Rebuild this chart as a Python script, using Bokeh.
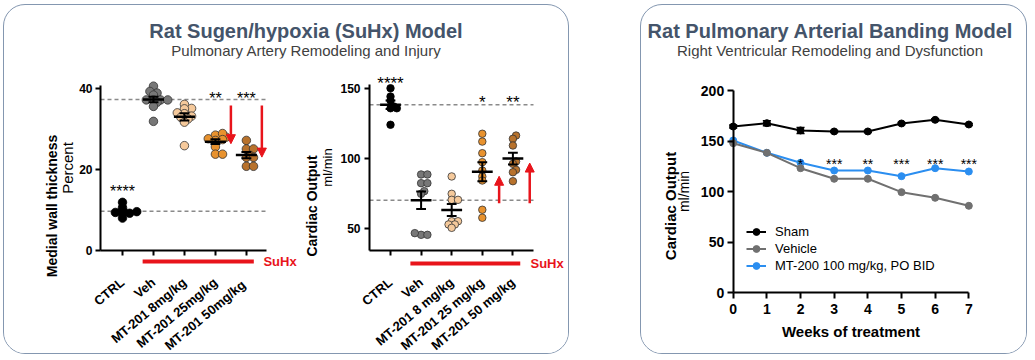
import math
import numpy as np
from bokeh.plotting import figure
from bokeh.models import (Range1d, FixedTicker, Label, LinearAxis, Arrow, NormalHead,
                          Div, Spacer, Legend, LegendItem)
from bokeh.layouts import row, column
from bokeh.core.properties import value
from bokeh.embed import file_html
from bokeh.resources import INLINE

# ---------------- data ----------------
# Rat SuHx: medial wall thickness (percent)
mwt_groups = ["CTRL", "Veh", "MT-201 8mg/kg", "MT-201 25mg/kg", "MT-201  50mg/kg"]
mwt_ctrl = [11.9, 10.6, 9.2, 9.6, 9.4, 9.1, 8.0]
mwt_veh = [40.6, 38.9, 39.3, 38.4, 37.2, 37.2, 37.2, 37.2, 36.6, 35.6, 31.9]
mwt_8 = [36.1, 35.1, 35.0, 33.8, 34.0, 33.2, 32.9, 32.5, 31.7, 25.9]
mwt_25 = [28.0, 28.0, 28.5, 28.9, 27.2, 27.6, 27.4, 25.6, 23.8, 23.8]
mwt_50 = [27.2, 25.1, 25.1, 23.5, 23.0, 23.0, 20.8, 20.8]
mwt_stars = ["****", "", "", "**", "***"]

# Rat SuHx: cardiac output (ml/min)
co_groups = ["CTRL", "Veh", "MT-201 8 mg/kg", "MT-201 25 mg/kg", "MT-201 50 mg/kg"]
co_ctrl = [150.4, 144.5, 141.6, 137.4, 136.1, 136.1, 124.3]
co_veh = [88.8, 88.8, 82.6, 82.6, 76.9, 75.0, 45.7, 46.9, 45.7]
co_8 = [87.4, 75.0, 70.7, 70.7, 55.4, 55.4, 53.1, 53.1, 50.7]
co_25 = [117.9, 112.3, 104.0, 97.6, 91.6, 87.3, 84.5, 63.6, 57.9]
co_50 = [116.6, 114.3, 109.5, 98.1, 96.4, 92.1, 90.4, 84.0]
co_stars = ["****", "", "", "*", "**"]

# Rat PAB: cardiac output over weeks of treatment
weeks = [0, 1, 2, 3, 4, 5, 6, 7]
pab_sham = [164.4, 167.7, 160.5, 159.5, 159.5, 167.4, 171.0, 166.4]
pab_sham_sem = [1.5, 2.5, 3.0, 1.0, 1.0, 1.0, 1.0, 1.0]
pab_vehicle = [147.9, 138.4, 123.2, 112.7, 112.7, 99.5, 93.9, 86.0]
pab_mt200 = [150.6, 138.4, 128.5, 120.9, 120.9, 115.3, 123.2, 119.9]
pab_stars = ["", "", "*", "***", "**", "***", "***", "***"]
pab_labels = ["Sham", "Vehicle", "MT-200 100 mg/kg, PO BID"]

# ---------------- style ----------------
FONT = "Liberation Sans"
RED = "#e8141b"
OUTLINE = "#333333"
SWARM_COLORS = ["#000000", "#777777", "#f5c99b", "#e8922e", "#b8722c"]
PAB_COLORS = ["#000000", "#707070", "#2b8ef0"]
PANEL_STYLE = {"border": "1px solid #8497b0", "border-radius": "22px",
               "overflow": "hidden", "background-color": "white"}


def swarm_offsets(vals, diam, ppu_y, ppu_x):
    placed = []
    offs = [0.0] * len(vals)
    order = sorted(range(len(vals)), key=lambda i: vals[i])
    step = diam * 0.42
    for i in order:
        y = vals[i] * ppu_y
        k = 0
        chosen = None
        while chosen is None:
            cands = [0.0] if k == 0 else [k * step, -k * step]
            for c in cands:
                if all((c - px) ** 2 + (y - py) ** 2 >= (diam * 0.48) ** 2 for px, py in placed):
                    chosen = c
                    break
            k += 1
        placed.append((chosen, y))
        offs[i] = chosen / ppu_x
    return offs


def style_axes(p, tick_size, tick_out):
    for ax in p.axis:
        ax.axis_line_width = 2
        ax.axis_line_color = "black"
        ax.major_tick_line_width = 2
        ax.major_tick_line_color = "black"
        ax.major_tick_in = 0
        ax.major_tick_out = tick_out
        ax.minor_tick_line_color = None
        ax.major_label_text_font = FONT
        ax.major_label_text_font_style = "bold"
        ax.major_label_text_font_size = tick_size
        ax.major_label_text_color = "black"
        ax.axis_label_text_font = FONT
        ax.axis_label_text_color = "black"
    p.xgrid.visible = False
    p.ygrid.visible = False


def add_title_axis(p, loc, text, size, standoff):
    ax = LinearAxis(fixed_location=loc, ticker=FixedTicker(ticks=[]), axis_line_color=None,
                    major_tick_line_color=None, minor_tick_line_color=None,
                    major_tick_out=0, major_tick_in=0, minor_tick_out=0, minor_tick_in=0,
                    major_label_standoff=0, axis_label=text, axis_label_standoff=standoff,
                    axis_label_text_font=FONT, axis_label_text_font_style="bold",
                    axis_label_text_font_size=size, axis_label_text_color="black")
    p.add_layout(ax, "left")


def make_fig(g):
    # g: page geometry -> ranges so that the whole canvas is the plotting frame
    x0 = -(g["cx0"] - g["fx"]) / g["ppu_x"]
    x1 = x0 + g["w"] / g["ppu_x"]
    y1 = g["ybase"] + (g["ay"] - g["fy"]) / g["ppu_y"]
    y0 = y1 - g["h"] / g["ppu_y"]
    p = figure(width=g["w"], height=g["h"], x_range=Range1d(x0, x1), y_range=Range1d(y0, y1),
               min_border=0, toolbar_location=None, output_backend="svg",
               background_fill_color="white", border_fill_alpha=0, outline_line_color=None)
    yaxis_x = (g["axx"] - g["cx0"]) / g["ppu_x"]
    xaxis_end = (g["axend"] - g["cx0"]) / g["ppu_x"]
    return p, yaxis_x, xaxis_end


def swarm_plot(groups, series, stars, g, cfg):
    p, yax, xend = make_fig(g)
    ppu_x, ppu_y = g["ppu_x"], g["ppu_y"]
    style_axes(p, "12px", 5)
    base = g["ybase"]

    means = [float(np.mean(v)) for v in series]
    sems = [float(np.std(v, ddof=1) / math.sqrt(len(v))) for v in series]

    # dashed reference lines at control and vehicle means
    p.segment(x0=[yax, yax], y0=[means[0], means[1]], x1=[xend, xend], y1=[means[0], means[1]],
              line_color="#8a8a8a", line_dash="4 3", line_width=1.5)

    for i, vals in enumerate(series):
        offs = swarm_offsets(vals, cfg["marker"], ppu_y, ppu_x)
        xs = [i + o for o in offs]
        p.scatter(xs, vals, size=cfg["marker"], fill_color=SWARM_COLORS[i],
                  line_color=OUTLINE if i > 0 else "black", line_width=0.8)
        m, s = means[i], sems[i]
        p.segment(x0=[i - 0.34], y0=[m], x1=[i + 0.34], y1=[m], line_color="black", line_width=2.5)
        p.segment(x0=[i], y0=[m - s], x1=[i], y1=[m + s], line_color="black", line_width=2)
        p.segment(x0=[i - 0.16, i - 0.16], y0=[m - s, m + s], x1=[i + 0.16, i + 0.16],
                  y1=[m - s, m + s], line_color="black", line_width=2)

    # significance stars
    ref = means[cfg["star_ref"]]
    sx, sy, st, so = [], [], [], []
    for i, s in enumerate(stars):
        if not s:
            continue
        sx.append(i)
        st.append(s)
        if i == 0:
            sy.append(max(series[0]))
            so.append(cfg["ctrl_star_dy"])
        else:
            sy.append(ref)
            so.append(cfg["grp_star_dy"])
    p.text(x=sx, y=sy, text=st, y_offset=so, text_align="center", text_baseline="middle",
           text_font=value(FONT), text_font_size=cfg["star_size"], text_color="black")

    # red arrows from the vehicle level toward treated group means
    veh = means[1]
    for i, s in enumerate(stars):
        if i < 2 or not s:
            continue
        sgn = 1 if means[i] > veh else -1
        p.add_layout(Arrow(end=NormalHead(size=9, fill_color=RED, line_color=RED, line_width=1),
                           x_start=i + cfg["arrow_dx"], x_end=i + cfg["arrow_dx"],
                           y_start=veh + cfg["arrow_start_px"] / ppu_y,
                           y_end=means[i] - sgn * cfg["arrow_end_px"] / ppu_y,
                           line_color=RED, line_width=2.5))

    # SuHx bar under the axis (groups 1..end received SuHx)
    bar_y = base - cfg["bar_px"] / ppu_y
    p.segment(x0=[1 - 0.35], y0=[bar_y], x1=[len(groups) - 1 + 0.24], y1=[bar_y],
              line_color=RED, line_width=4, line_cap="butt")
    p.add_layout(Label(x=len(groups) - 1 + cfg["suhx_dx"], y=bar_y, text="SuHx",
                       text_color=RED, text_font=FONT, text_font_style="bold",
                       text_font_size="13px", text_baseline="middle", text_align="left"))

    # axes fixed at the data origin
    p.xaxis.fixed_location = base
    p.xaxis.bounds = (yax, xend)
    p.yaxis.fixed_location = yax
    p.yaxis.bounds = cfg["ybounds"]
    p.xaxis.ticker = FixedTicker(ticks=list(range(len(groups))))
    p.xaxis.major_label_overrides = {i: gname for i, gname in enumerate(groups)}
    p.xaxis.major_label_orientation = math.radians(40)
    p.xaxis.major_label_standoff = cfg["xl_standoff"]
    p.xaxis.major_label_text_font_size = "13px"
    p.yaxis.ticker = FixedTicker(ticks=cfg["yticks"])
    p.yaxis.major_label_standoff = cfg["yl_standoff"]
    p.yaxis.axis_label = cfg["ylabel"]
    p.yaxis.axis_label_text_font_size = cfg["ylabel_size"]
    p.yaxis.axis_label_text_font_style = "normal"
    p.yaxis.axis_label_standoff = cfg["ylabel_standoff"]
    add_title_axis(p, yax, cfg["ytitle"], "14px", cfg["title_standoff"])
    return p


p1 = swarm_plot(mwt_groups, [mwt_ctrl, mwt_veh, mwt_8, mwt_25, mwt_50], mwt_stars,
                dict(fx=4, fy=58, w=295, h=295, cx0=122, ppu_x=30.97, ay=250, ybase=0,
                     ppu_y=4.048, axx=100, axend=266),
                dict(yticks=[0, 20, 40], ybounds=(0, 40.7), marker=8.5, star_size="16px",
                     ctrl_star_dy=-11, grp_star_dy=-1, star_ref=1, arrow_dx=0.5,
                     arrow_start_px=-6, arrow_end_px=-2, bar_px=11, suhx_dx=0.55,
                     xl_standoff=25, yl_standoff=3, ylabel="Percent", ylabel_size="15px",
                     ylabel_standoff=0, ytitle="Medial wall thickness", title_standoff=41))

p2 = swarm_plot(co_groups, [co_ctrl, co_veh, co_8, co_25, co_50], co_stars,
                dict(fx=299, fy=58, w=269, h=295, cx0=390, ppu_x=30.6, ay=250, ybase=34.5,
                     ppu_y=1.4, axx=369, axend=533),
                dict(yticks=[50, 100, 150], ybounds=(34.5, 153), marker=7.5, star_size="17px",
                     ctrl_star_dy=-5, grp_star_dy=-2, star_ref=0, arrow_dx=0.55,
                     arrow_start_px=-3, arrow_end_px=4.5, bar_px=13, suhx_dx=0.575,
                     xl_standoff=25, yl_standoff=4, ylabel="ml/min", ylabel_size="13px",
                     ylabel_standoff=2, ytitle="Cardiac Output", title_standoff=50))

# ---------------- PAB line chart ----------------
p3, _, _ = make_fig(dict(fx=641, fy=58, w=385, h=295, cx0=732.7, ppu_x=33.66, ay=292.3,
                         ybase=0, ppu_y=1.0115, axx=732.7, axend=968.3))
style_axes(p3, "14px", 6)
p3.yaxis.fixed_location = 0
p3.xaxis.fixed_location = 0
p3.yaxis.bounds = (0, 200)
p3.xaxis.bounds = (0, 7)
p3.xaxis.ticker = FixedTicker(ticks=weeks)
p3.yaxis.ticker = FixedTicker(ticks=[0, 50, 100, 150, 200])
p3.yaxis.major_label_standoff = 3
p3.xaxis.major_label_standoff = 5
p3.yaxis.axis_label = "ml/min"
p3.yaxis.axis_label_text_font_size = "14px"
p3.yaxis.axis_label_text_font_style = "normal"
p3.yaxis.axis_label_standoff = 6
p3.xaxis.axis_label = "Weeks of treatment"
p3.xaxis.axis_label_text_font_size = "15px"
p3.xaxis.axis_label_text_font_style = "bold"
p3.xaxis.axis_label_standoff = 6
add_title_axis(p3, 0, "Cardiac Output", "15px", 55)

sham_lo = [v - e for v, e in zip(pab_sham, pab_sham_sem)]
sham_hi = [v + e for v, e in zip(pab_sham, pab_sham_sem)]
p3.segment(x0=weeks, y0=sham_lo, x1=weeks, y1=sham_hi, line_color="black", line_width=1.5)
p3.segment(x0=[w - 0.12 for w in weeks], y0=sham_lo, x1=[w + 0.12 for w in weeks], y1=sham_lo,
           line_color="black", line_width=1.5)
p3.segment(x0=[w - 0.12 for w in weeks], y0=sham_hi, x1=[w + 0.12 for w in weeks], y1=sham_hi,
           line_color="black", line_width=1.5)

rends = {}
for key, ys, col in (("sham", pab_sham, PAB_COLORS[0]), ("mt", pab_mt200, PAB_COLORS[2]),
                     ("veh", pab_vehicle, PAB_COLORS[1])):
    ln = p3.line(weeks, ys, line_color=col, line_width=2)
    mk = p3.scatter(weeks, ys, size=7, fill_color=col, line_color=col)
    rends[key] = [ln, mk]

star_level = max(pab_mt200[2:])
sw = [w for w, s in zip(weeks, pab_stars) if s]
p3.text(x=sw, y=[star_level] * len(sw), text=[s for s in pab_stars if s], y_offset=1,
        text_align="center", text_baseline="middle",
        text_font=value(FONT), text_font_size="14px", text_color="black")

legend = Legend(items=[LegendItem(label=pab_labels[0], renderers=rends["sham"]),
                       LegendItem(label=pab_labels[1], renderers=rends["veh"]),
                       LegendItem(label=pab_labels[2], renderers=rends["mt"])],
                location=(105, 79.5), border_line_color=None, background_fill_alpha=0,
                padding=0, margin=0, spacing=0, label_height=17, glyph_height=17,
                glyph_width=20, label_standoff=9, label_text_font=FONT,
                label_text_font_size="13px", label_text_color="black")
p3.add_layout(legend)


# ---------------- titles & panels ----------------
def title_div(title, subtitle, width, pad):
    html = (f'<div style="width:{width}px;box-sizing:border-box;padding-top:15px;{pad}'
            f'text-align:center;font-family:\'Liberation Sans\',Arial,sans-serif;">'
            f'<div style="font-size:20px;line-height:22px;font-weight:bold;color:#44546a;'
            f'white-space:nowrap;">{title}</div>'
            f'<div style="font-size:15px;line-height:18px;color:#404040;white-space:nowrap;">'
            f'{subtitle}</div></div>')
    return Div(text=html, width=width, height=53, margin=0)


left_title = title_div("Rat Sugen/hypoxia (SuHx) Model", "Pulmonary Artery Remodeling and Injury",
                       564, "padding-left:40px;")
right_title = title_div("Rat Pulmonary Arterial Banding Model",
                        "Right Ventricular Remodeling and Dysfunction", 385, "padding-right:7px;")

left_panel = column(left_title, row(p1, p2, margin=0), margin=0, styles=PANEL_STYLE)
right_panel = column(right_title, p3, margin=0, styles=PANEL_STYLE)
layout = row(left_panel, Spacer(width=71, height=10, margin=0), right_panel, margin=(4, 0, 0, 3))

open("out.html", "w").write(file_html(layout, INLINE, title="Rat models"))
